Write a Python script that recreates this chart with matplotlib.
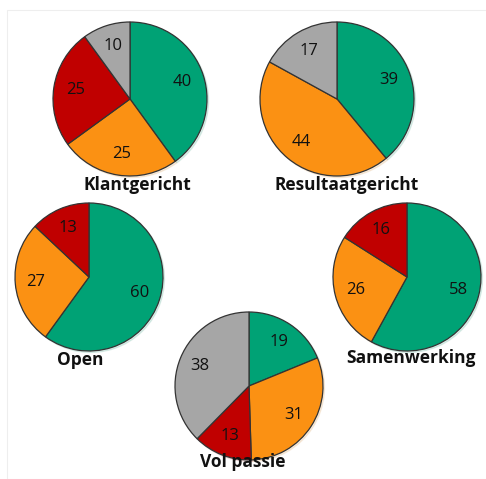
import matplotlib.pyplot as plt
from matplotlib.patches import Rectangle

# waarden per pie, met de klok mee vanaf boven: groen, oranje, rood, grijs
titels = ['Klantgericht', 'Resultaatgericht', 'Open', 'Samenwerking', 'Vol passie']
groen = [40, 39, 60, 58, 19]
oranje = [25, 44, 27, 26, 31]
rood = [25, 0, 13, 16, 13]
grijs = [10, 17, 0, 0, 38]
kleuren = ['#00A275', '#FB9113', '#C00000', '#A6A6A6']

W, H = 486, 479
# middelpunt en straal van elke pie in pixels, plus plek van de titel
pies = [(130, 99, 77, 137, 185), (337, 99, 77, 347, 185),
        (89, 277, 74, 80, 360), (407, 277, 74, 411, 358),
        (249, 386, 74, 243, 462)]

plt.rcParams['font.family'] = ['Open Sans', 'DejaVu Sans']
fig = plt.figure(figsize=(W / 100, H / 100), dpi=100)
fig.patches.append(Rectangle((7 / W, 0), 1, 1 - 10 / H, transform=fig.transFigure,
                             fill=False, edgecolor='#EEEEEE', linewidth=0.8))

for i, titel in enumerate(titels):
    cx, cy, r, tx, ty = pies[i]
    ax = fig.add_axes([(cx - r) / W, (H - cy - r) / H, 2 * r / W, 2 * r / H])
    waarden = [groen[i], oranje[i], rood[i], grijs[i]]
    vals = [v for v in waarden if v > 0]
    cols = [c for v, c in zip(waarden, kleuren) if v > 0]
    wedges, teksten = ax.pie(vals, colors=cols, startangle=90, counterclock=False,
                             labels=[str(v) for v in vals], labeldistance=0.72,
                             wedgeprops=dict(edgecolor='#333333', linewidth=0.9),
                             shadow=dict(ox=0.015, oy=-0.015, shade=0.2, alpha=0.12),
                             textprops=dict(fontsize=12, color='#111111'))
    for t in teksten:
        t.set_ha('center')
        t.set_va('center')
    ax.set_xlim(-1, 1)
    ax.set_ylim(-1, 1)
    ax.axis('off')
    fig.text(tx / W, 1 - ty / H, titel, ha='center', va='center',
             fontsize=12.5, fontweight='bold', color='#111111')

fig.savefig('out.png', dpi=100)
